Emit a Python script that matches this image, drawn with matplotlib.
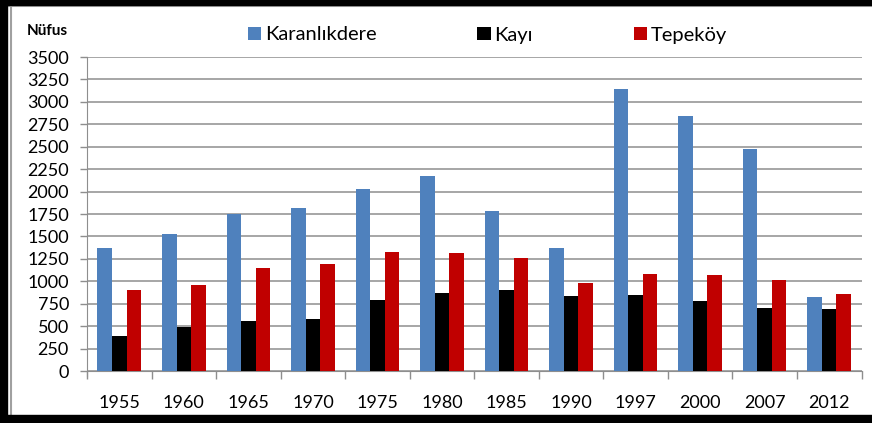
import numpy as np
import matplotlib
matplotlib.use('Agg')
import matplotlib.pyplot as plt
from matplotlib.patches import Rectangle
from matplotlib.lines import Line2D

plt.rcParams['font.family'] = ['Lato', 'DejaVu Sans']

years = ['1955', '1960', '1965', '1970', '1975', '1980',
         '1985', '1990', '1997', '2000', '2007', '2012']
karanlikdere = [1370, 1530, 1750, 1820, 2030, 2170, 1780, 1370, 3140, 2840, 2470, 820]
kayi = [390, 485, 555, 575, 790, 870, 905, 840, 845, 780, 705, 695]
tepekoy = [905, 955, 1145, 1195, 1330, 1315, 1255, 980, 1080, 1065, 1015, 855]

series = [('Karanlıkdere', karanlikdere, '#4F81BD'),
          ('Kayı', kayi, '#000000'),
          ('Tepeköy', tepekoy, '#C00000')]

W, H = 872, 423
fig = plt.figure(figsize=(W / 100, H / 100), dpi=100)
ax = fig.add_axes([87 / W, 1 - 371 / H, (861.5 - 87) / W, (371 - 57) / H])

x = np.arange(len(years))
bw = 0.225
for i, (name, vals, col) in enumerate(series):
    ax.bar(x + (i - 1) * bw, vals, width=bw, color=col, label=name,
           zorder=3, linewidth=0)

ax.set_xlim(-0.5, len(years) - 0.5)
ax.set_ylim(0, 3500)
ax.set_yticks(np.arange(0, 3501, 250))
ax.yaxis.grid(True, color='#8e8e8e', linewidth=1.1, zorder=0)
ax.set_axisbelow(True)

for s in ['top', 'right']:
    ax.spines[s].set_visible(False)
ax.spines['left'].set_color('#8e8e8e')
ax.spines['bottom'].set_color('#8e8e8e')
ax.spines['left'].set_bounds(-60, 3500)

ax.set_xticks(x)
ax.set_xticklabels(years)
ax.set_xticks(np.arange(-0.5, len(years)), minor=True)
ax.tick_params(axis='x', which='major', length=0, pad=17, labelsize=13)
ax.tick_params(axis='x', which='minor', length=6, color='#8e8e8e', width=1)
ax.tick_params(axis='y', length=5, color='#8e8e8e', width=1, pad=8, labelsize=13)

fig.text(27 / W, 1 - 31 / H, 'Nüfus', fontsize=11, fontweight='bold',
         ha='left', va='center')

ax.legend(loc='center left', bbox_to_anchor=(248 / W, 1 - 35 / H),
          bbox_transform=fig.transFigure, ncol=3, frameon=False,
          fontsize=14.5, handlelength=0.65, handleheight=0.65,
          handletextpad=0.2, columnspacing=5.0, borderpad=0, borderaxespad=0)

# image frame
fig.patches.append(Rectangle((0, 1 - 5 / H), 1, 5 / H, transform=fig.transFigure,
                             color='black', zorder=10))
fig.patches.append(Rectangle((0, 0), 7 / W, 1, transform=fig.transFigure,
                             color='black', zorder=10))
fig.patches.append(Rectangle((0, 0), 1, 8 / H, transform=fig.transFigure,
                             color='black', zorder=10))
fig.lines.append(Line2D([11 / W, 11 / W], [8 / H, 1 - 5 / H], transform=fig.transFigure,
                        color='#a0a0a0', linewidth=1.5))
fig.lines.append(Line2D([7 / W, 1], [1 - 6.5 / H, 1 - 6.5 / H], transform=fig.transFigure,
                        color='#b0b0b0', linewidth=1.5))

fig.savefig('out.png', dpi=100)
